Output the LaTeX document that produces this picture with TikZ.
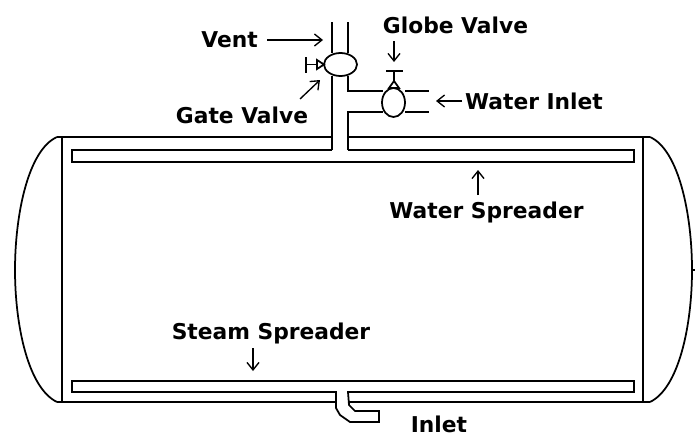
\documentclass[tikz,border=0pt]{standalone}
\usepackage{fontspec}
\setmainfont{DejaVu Sans}
\usetikzlibrary{arrows.meta}
\tikzset{>={Straight Barb[length=1.5mm,width=2.4mm]}}
\tikzstyle{tankline}=[draw=black,line width=0.35mm]
\tikzstyle{pointer}=[->,draw=black,line width=0.27mm]
\tikzstyle{tag}=[font=\bfseries\fontsize{12.4}{14}\selectfont,inner sep=0pt,text=black]
\begin{document}
\begin{tikzpicture}[x=0.02cm,y=-0.02cm]
  \useasboundingbox (0,0) rectangle (695,436);
  % labels
  \node[tag] (vent) at (229.5,40) {Vent};
  \node[tag] (globe) at (455.5,25) {Globe Valve};
  \node[tag] (gate) at (242,115) {Gate Valve};
  \node[tag] (inlet) at (534,101) {Water Inlet};
  \node[tag] (spreader) at (486.5,212) {Water Spreader};
  \node[tag] (steam) at (271,333) {Steam Spreader};
  \node[tag] (bottom) at (439,424) {Inlet};
  % arrows
  \coordinate (ventstart) at (267,40);
  \coordinate (ventend) at (323,40);
  \coordinate (globestart) at (394,41);
  \coordinate (globeend) at (394,62);
  \coordinate (gatestart) at (300,99);
  \coordinate (gateend) at (320,80);
  \coordinate (inletstart) at (462,101);
  \coordinate (inletend) at (436,101);
  \coordinate (spreadstart) at (478,195);
  \coordinate (spreadend) at (478,170);
  \coordinate (steamstart) at (253,348);
  \coordinate (steamend) at (253,371);
  \draw[pointer] (ventstart) -- (ventend);
  \draw[pointer] (globestart) -- (globeend);
  \draw[pointer] (gatestart) -- (gateend);
  \draw[pointer] (inletstart) -- (inletend);
  \draw[pointer] (spreadstart) -- (spreadend);
  \draw[pointer] (steamstart) -- (steamend);
  % tank
  \draw[tankline] (332,137) -- (57,137);
  \draw[tankline] (348,137) -- (650,137);
  \draw[tankline] (57,402) -- (336,402);
  \draw[tankline] (349,402) -- (650,402);
  \draw[tankline] (62,137) -- (62,402);
  \draw[tankline] (643,137) -- (643,402);
  \draw[tankline] (57,137) .. controls (28,150) and (15,215) .. (15,270)
    .. controls (15,325) and (28,388) .. (57,402);
  \draw[tankline] (650,137) .. controls (679,150) and (692,215) .. (692,270)
    .. controls (692,325) and (679,388) .. (650,402);
  \draw[tankline] (692,270) -- (695,270);
  % water spreader
  \draw[tankline] (332,150) -- (72,150) -- (72,162) -- (634,162) -- (634,150) -- (348,150);
  % steam spreader
  \draw[tankline] (72,381) rectangle (634,392);
  \fill[white] (337,391) rectangle (347,403);
  % vent pipe
  \draw[tankline] (332,22) -- (332,53);
  \draw[tankline] (348,22) -- (348,53);
  \draw[tankline] (332,76) -- (332,150);
  \draw[tankline] (348,76) -- (348,91) -- (383,91);
  \draw[tankline] (348,150) -- (348,112) -- (383,112);
  \draw[tankline] (405,91) -- (429,91);
  \draw[tankline] (405,112) -- (429,112);
  % gate valve
  \draw[tankline] (340.5,64.5) ellipse (16.5 and 11.5);
  \draw[tankline] (324,64.5) -- (317,60) -- (317,69) -- cycle;
  \draw[tankline] (317,64.5) -- (306,64.5);
  \draw[tankline] (306,57) -- (306,73);
  % globe valve
  \draw[tankline] (393.5,102.5) ellipse (11.5 and 14.5);
  \draw[tankline] (394,81) -- (389,88) -- (399,88) -- cycle;
  \draw[tankline] (394,81) -- (394,71);
  \draw[tankline] (386,71) -- (403,71);
  % inlet pipe
  \draw[tankline] (336,392) -- (336,408) -- (340,415) -- (350,422) -- (379,422)
    -- (379,411) -- (355,411) -- (349,405) -- (348,392);
\end{tikzpicture}
\end{document}
